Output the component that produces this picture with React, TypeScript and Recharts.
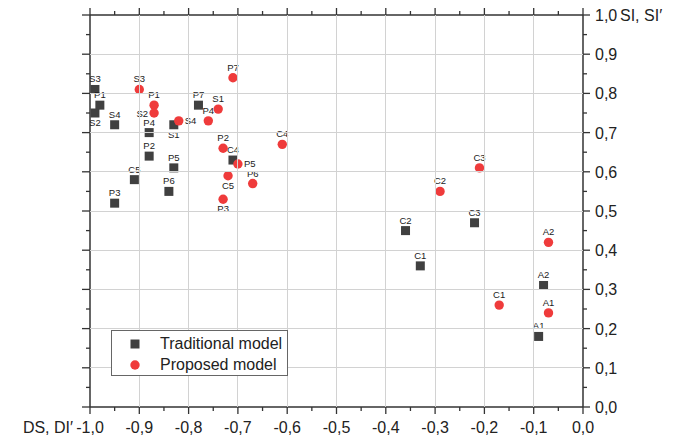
import React from "react";
import { ScatterChart, Scatter, XAxis, YAxis } from "recharts";

// Traditional model (squares)
const tradNames = ["S3", "P1", "S2", "S4", "P4", "S1", "P7", "P2", "P5", "C5", "P6", "P3", "C4", "C2", "C1", "C3", "A2", "A1"];
const tradDS = [-0.99, -0.98, -0.99, -0.95, -0.88, -0.83, -0.78, -0.88, -0.83, -0.91, -0.84, -0.95, -0.71, -0.36, -0.33, -0.22, -0.08, -0.09];
const tradSI = [0.81, 0.77, 0.75, 0.72, 0.7, 0.72, 0.77, 0.64, 0.61, 0.58, 0.55, 0.52, 0.63, 0.45, 0.36, 0.47, 0.31, 0.18];

// Proposed model (circles)
const propNames = ["S3", "P1", "S2", "S4", "P4", "S1", "P7", "P2", "P5", "C5", "P6", "P3", "C4", "C2", "C3", "C1", "A2", "A1"];
const propDS = [-0.9, -0.87, -0.87, -0.82, -0.76, -0.74, -0.71, -0.73, -0.7, -0.72, -0.67, -0.73, -0.61, -0.29, -0.21, -0.17, -0.07, -0.07];
const propSI = [0.81, 0.77, 0.75, 0.73, 0.73, 0.76, 0.84, 0.66, 0.62, 0.59, 0.57, 0.53, 0.67, 0.55, 0.61, 0.26, 0.42, 0.24];

const xMajor = [-1.0, -0.9, -0.8, -0.7, -0.6, -0.5, -0.4, -0.3, -0.2, -0.1, 0.0];
const xMinor = [-0.95, -0.85, -0.75, -0.65, -0.55, -0.45, -0.35, -0.25, -0.15, -0.05];
const yMajor = [0.0, 0.1, 0.2, 0.3, 0.4, 0.5, 0.6, 0.7, 0.8, 0.9, 1.0];
const yMinor = [0.05, 0.15, 0.25, 0.35, 0.45, 0.55, 0.65, 0.75, 0.85, 0.95];
const xDomain = [-1, 0];
const yDomain = [0, 1];

const xTitle = "DS, DI\u2032";
const yTitle = "SI, SI\u2032";

// label placement for a few crowded points (default: above)
const tradLabelSide: Record<string, string> = { S2: "bottom", S1: "bottom" };
const propLabelSide: Record<string, string> = { S2: "left", S4: "right", P5: "right", C5: "bottom", P3: "bottom" };

// chart frame
const W = 683;
const H = 439;
const LEFT_W = 90;
const RIGHT_W = 100;
const TOP_H = 15;
const BOTTOM_H = 32;

const FONT = '"Liberation Sans", Arial, sans-serif';
const AXIS = "#333";
const GRID = "#d2d2d2";
const SQUARE = "#404040";
const CIRCLE = "#ef3b3b";

const tradData = tradNames.map((name, i) => ({ name, x: tradDS[i], y: tradSI[i] }));
const propData = propNames.map((name, i) => ({ name, x: propDS[i], y: propSI[i] }));

const xTicks = [...xMajor, ...xMinor].sort((a, b) => a - b);
const yTicks = [...yMajor, ...yMinor].sort((a, b) => a - b);

const isMajor = (v: number) => Math.abs(v * 10 - Math.round(v * 10)) < 1e-6;
const isEnd = (v: number, d: number[]) => Math.abs(v - d[0]) < 1e-9 || Math.abs(v - d[1]) < 1e-9;
const fmt = (v: number) => (Math.abs(v) < 1e-9 ? 0 : v).toFixed(1).replace(".", ",");

// bottom ticks also carry the vertical grid lines
const BottomTick = ({ x, y, payload }: any) => {
  const v = payload.value;
  const major = isMajor(v);
  return (
    <g>
      {major && !isEnd(v, xDomain) && (
        <line x1={x} x2={x} y1={y} y2={TOP_H} stroke={GRID} strokeWidth={1} shapeRendering="crispEdges" />
      )}
      <line x1={x} x2={x} y1={y} y2={y + (major ? 7 : 4)} stroke={AXIS} strokeWidth={1.3} />
      {major && (
        <text x={x} y={y + 26} textAnchor="middle" fontSize={16} fill="#222" fontFamily={FONT}>
          {fmt(v)}
        </text>
      )}
      {Math.abs(v + 1) < 1e-9 && (
        <text x={x - 17} y={y + 26} textAnchor="end" fontSize={16} fill="#222" fontFamily={FONT}>
          {xTitle}
        </text>
      )}
    </g>
  );
};

const TopTick = ({ x, y, payload }: any) => {
  const major = isMajor(payload.value);
  return <line x1={x} x2={x} y1={y} y2={y - (major ? 7 : 4)} stroke={AXIS} strokeWidth={1.3} />;
};

const LeftTick = ({ x, y, payload }: any) => {
  const major = isMajor(payload.value);
  return <line x1={x} x2={x - (major ? 8 : 4)} y1={y} y2={y} stroke={AXIS} strokeWidth={1.3} />;
};

// right ticks also carry the horizontal grid lines
const RightTick = ({ x, y, payload }: any) => {
  const v = payload.value;
  const major = isMajor(v);
  return (
    <g>
      {major && !isEnd(v, yDomain) && (
        <line x1={LEFT_W} x2={x} y1={y} y2={y} stroke={GRID} strokeWidth={1} shapeRendering="crispEdges" />
      )}
      <line x1={x} x2={x + (major ? 7 : 4)} y1={y} y2={y} stroke={AXIS} strokeWidth={1.3} />
      {major && (
        <text x={x + 12} y={y + 6} textAnchor="start" fontSize={16} fill="#222" fontFamily={FONT}>
          {fmt(v)}
        </text>
      )}
      {Math.abs(v - 1) < 1e-9 && (
        <text x={x + 37} y={y + 6} textAnchor="start" fontSize={16} fill="#222" fontFamily={FONT}>
          {yTitle}
        </text>
      )}
    </g>
  );
};

const PointLabel = ({ cx, cy, text, side }: { cx: number; cy: number; text: string; side: string }) => {
  let tx = cx;
  let ty = cy - 7;
  let anchor = "middle";
  if (side === "bottom") ty = cy + 13;
  if (side === "left") { tx = cx - 6; ty = cy + 3.5; anchor = "end"; }
  if (side === "right") { tx = cx + 6; ty = cy + 3; anchor = "start"; }
  return (
    <text x={tx} y={ty} textAnchor={anchor as any} fontSize={9.5} fill="#222" fontFamily={FONT}>
      {text}
    </text>
  );
};

const SquareShape = (props: any) => {
  const { cx, cy, payload } = props;
  return (
    <g>
      <rect x={cx - 4.5} y={cy - 4.5} width={9} height={9} fill={SQUARE} />
      <PointLabel cx={cx} cy={cy} text={payload.name} side={tradLabelSide[payload.name] || "top"} />
    </g>
  );
};

const CircleShape = (props: any) => {
  const { cx, cy, payload } = props;
  return (
    <g>
      <circle cx={cx} cy={cy} r={4.7} fill={CIRCLE} />
      <PointLabel cx={cx} cy={cy} text={payload.name} side={propLabelSide[payload.name] || "top"} />
    </g>
  );
};

const Legend = () => (
  <div
    style={{
      position: "absolute",
      left: 111,
      top: 330,
      width: 177,
      height: 46,
      border: "1px solid #666",
      background: "#fff",
      fontFamily: FONT,
      fontSize: 16,
      color: "#222",
      boxSizing: "border-box",
    }}
  >
    <div style={{ position: "absolute", left: 18, top: 4, display: "flex", alignItems: "center" }}>
      <svg width={10} height={10}><rect x={0.5} y={0.5} width={9} height={9} fill={SQUARE} /></svg>
      <span style={{ marginLeft: 20, lineHeight: "18px" }}>Traditional model</span>
    </div>
    <div style={{ position: "absolute", left: 18, top: 25, display: "flex", alignItems: "center" }}>
      <svg width={10} height={10}><circle cx={5} cy={5} r={4.7} fill={CIRCLE} /></svg>
      <span style={{ marginLeft: 20, lineHeight: "18px" }}>Proposed model</span>
    </div>
  </div>
);

export default function App() {
  return (
    <div style={{ position: "absolute", left: 0, top: 0, width: W, height: H, background: "#fff" }}>
      <ScatterChart width={W} height={H} margin={{ top: 0, right: 0, bottom: 0, left: 0 }}>
        <XAxis
          xAxisId="bottom"
          type="number"
          dataKey="x"
          orientation="bottom"
          domain={xDomain}
          ticks={xTicks}
          interval={0}
          height={BOTTOM_H}
          tickSize={0}
          tickMargin={0}
          tickLine={false}
          axisLine={{ stroke: AXIS, strokeWidth: 1.5 }}
          tick={BottomTick}
          allowDataOverflow
        />
        <XAxis
          xAxisId="top"
          type="number"
          dataKey="x"
          orientation="top"
          domain={xDomain}
          ticks={xTicks}
          interval={0}
          height={TOP_H}
          tickSize={0}
          tickMargin={0}
          tickLine={false}
          axisLine={{ stroke: AXIS, strokeWidth: 1.5 }}
          tick={TopTick}
          allowDataOverflow
        />
        <YAxis
          yAxisId="left"
          type="number"
          dataKey="y"
          orientation="left"
          domain={yDomain}
          ticks={yTicks}
          interval={0}
          width={LEFT_W}
          tickSize={0}
          tickMargin={0}
          tickLine={false}
          axisLine={{ stroke: AXIS, strokeWidth: 1.5 }}
          tick={LeftTick}
          allowDataOverflow
        />
        <YAxis
          yAxisId="right"
          type="number"
          dataKey="y"
          orientation="right"
          domain={yDomain}
          ticks={yTicks}
          interval={0}
          width={RIGHT_W}
          tickSize={0}
          tickMargin={0}
          tickLine={false}
          axisLine={{ stroke: AXIS, strokeWidth: 1.5 }}
          tick={RightTick}
          allowDataOverflow
        />
        <Scatter
          name="Traditional model"
          data={tradData}
          xAxisId="bottom"
          yAxisId="right"
          shape={SquareShape}
          isAnimationActive={false}
        />
        <Scatter
          name="Proposed model"
          data={propData}
          xAxisId="bottom"
          yAxisId="right"
          shape={CircleShape}
          isAnimationActive={false}
        />
      </ScatterChart>
      <Legend />
    </div>
  );
}
